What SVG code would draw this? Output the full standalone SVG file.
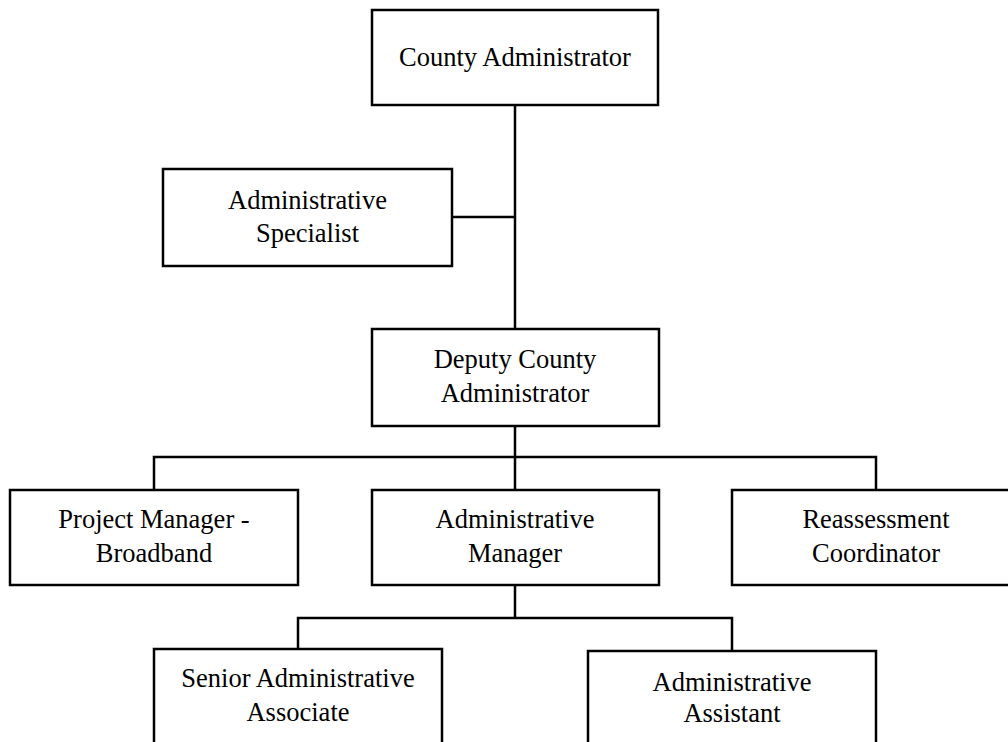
<svg xmlns="http://www.w3.org/2000/svg" width="1008" height="742" viewBox="0 0 1008 742">
<style>
.box{fill:#fff;stroke:#000;stroke-width:2.5}
.lbl{font-family:"Liberation Serif","Times New Roman",serif;font-size:26.5px;fill:#000;text-anchor:middle}
.con{stroke:#000;stroke-width:2.5;fill:none}
</style>
<rect width="1008" height="742" fill="#fff"/>
<g id="connectors">
<path class="con" d="M515 105V329M452 217H515M515 426V490M154 490V457H876V490M515 585V618M298 649V618H732V651"/>
</g>
<g id="county-administrator">
<rect class="box" x="372" y="10" width="286" height="95"/>
<text class="lbl" x="515" y="66">County Administrator</text>
</g>
<g id="administrative-specialist">
<rect class="box" x="163" y="169" width="289" height="97"/>
<text class="lbl" x="307.5" y="208.5">Administrative</text>
<text class="lbl" x="307.5" y="241.5">Specialist</text>
</g>
<g id="deputy-county-administrator">
<rect class="box" x="372" y="329" width="287" height="97"/>
<text class="lbl" x="515" y="368">Deputy County</text>
<text class="lbl" x="515" y="401.5">Administrator</text>
</g>
<g id="project-manager">
<rect class="box" x="10" y="490" width="288" height="95"/>
<text class="lbl" x="154" y="527.5">Project Manager -</text>
<text class="lbl" x="154" y="561.5">Broadband</text>
</g>
<g id="administrative-manager">
<rect class="box" x="372" y="490" width="287" height="95"/>
<text class="lbl" x="515" y="527.5">Administrative</text>
<text class="lbl" x="515" y="561.5">Manager</text>
</g>
<g id="reassessment-coordinator">
<rect class="box" x="732" y="490" width="288" height="95"/>
<text class="lbl" x="876" y="527.5">Reassessment</text>
<text class="lbl" x="876" y="561.5">Coordinator</text>
</g>
<g id="senior-administrative-associate">
<rect class="box" x="154" y="649" width="288" height="110"/>
<text class="lbl" x="298" y="686.5">Senior Administrative</text>
<text class="lbl" x="298" y="721">Associate</text>
</g>
<g id="administrative-assistant">
<rect class="box" x="588" y="651" width="288" height="110"/>
<text class="lbl" x="732" y="690.5">Administrative</text>
<text class="lbl" x="732" y="721.5">Assistant</text>
</g>
</svg>
